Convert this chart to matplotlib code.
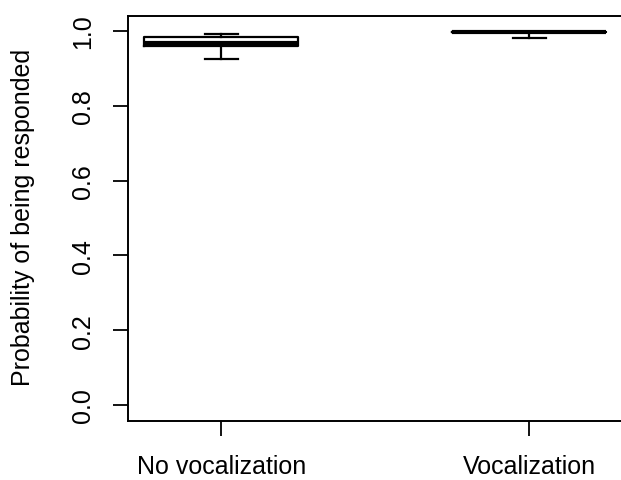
import matplotlib
matplotlib.use("Agg")
import matplotlib.pyplot as plt

plt.rcParams['font.family'] = ['Liberation Sans', 'DejaVu Sans']

groups = ["No vocalization", "Vocalization"]
whislo = [0.925, 0.982]
q1 = [0.960, 0.997]
med = [0.967, 0.997]
q3 = [0.984, 0.997]
whishi = [0.991, 0.997]

stats = []
for name, lo, a, m, b, hi in zip(groups, whislo, q1, med, q3, whishi):
    stats.append(dict(label=name, whislo=lo, q1=a, med=m, q3=b, whishi=hi, fliers=[]))

fig = plt.figure(figsize=(6.21, 4.81), dpi=100)
ax = fig.add_axes([128 / 621, 59 / 481, (627 - 128) / 621, (422 - 17) / 481])

ax.bxp(stats, positions=[1, 2], widths=0.5, capwidths=0.105, showfliers=False,
       boxprops=dict(color='black', linewidth=1.6),
       whiskerprops=dict(color='black', linewidth=1.6, linestyle='-'),
       capprops=dict(color='black', linewidth=1.6),
       medianprops=dict(color='black', linewidth=3))

ax.set_xlim(0.697, 2.317)
ax.set_ylim(-0.043, 1.040)
ax.set_yticks([0.0, 0.2, 0.4, 0.6, 0.8, 1.0])
ax.set_yticklabels(["0.0", "0.2", "0.4", "0.6", "0.8", "1.0"], rotation=90, va='center',
                   fontsize=18)
ax.set_xticks([1, 2])
ax.set_xticklabels(groups, fontsize=18)
ax.tick_params(axis='both', length=11, width=1.3, color='black')
ax.tick_params(axis='y', pad=13)
ax.tick_params(axis='x', pad=13)
for s in ax.spines.values():
    s.set_linewidth(1.4)
ax.set_ylabel("Probability of being responded", fontsize=18)
ax.yaxis.set_label_coords(-93 / 499, 0.505)

fig.savefig("out.png", dpi=100)
